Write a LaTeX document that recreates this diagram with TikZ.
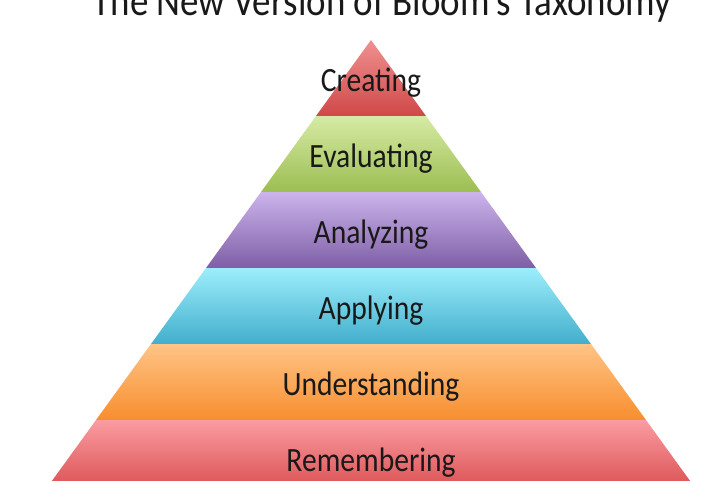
\documentclass[tikz,border=0pt]{standalone}
\usepackage{fontspec}
\setmainfont{Carlito}
\definecolor{creTop}{HTML}{F09090}
\definecolor{creBot}{HTML}{D04848}
\definecolor{evaTop}{HTML}{D6EAA4}
\definecolor{evaBot}{HTML}{9CBE52}
\definecolor{anaTop}{HTML}{CCB4EC}
\definecolor{anaBot}{HTML}{7E5EA6}
\definecolor{appTop}{HTML}{9CEEFC}
\definecolor{appBot}{HTML}{42AECC}
\definecolor{undTop}{HTML}{FFC486}
\definecolor{undBot}{HTML}{F78E2E}
\definecolor{remTop}{HTML}{FA9CA2}
\definecolor{remBot}{HTML}{D84A4A}
\begin{document}
\begin{tikzpicture}[x=1pt, y=-1pt,
  level/.style={anchor=base, xscale=0.87, text=black!90, font=\fontsize{34}{40}\selectfont},
  heading/.style={anchor=base, xscale=0.87, text=black!90, font=\fontsize{42.5}{50}\selectfont}]
\useasboundingbox (0,0) rectangle (720,480);
% layers, top to bottom
\shade[top color=creTop, bottom color=creBot] (371,40) -- (426,116) -- (316,116) -- cycle;
\shade[top color=evaTop, bottom color=evaBot] (316,116) -- (426,116) -- (481,192) -- (261,192) -- cycle;
\shade[top color=anaTop, bottom color=anaBot] (261,192) -- (481,192) -- (536,268) -- (206,268) -- cycle;
\shade[top color=appTop, bottom color=appBot] (206,268) -- (536,268) -- (591,344) -- (151,344) -- cycle;
\shade[top color=undTop, bottom color=undBot] (151,344) -- (591,344) -- (646,420) -- (96,420) -- cycle;
\shade[top color=remTop, bottom color=remBot] (96,420) -- (646,420) -- (701,496) -- (41,496) -- cycle;
% labels
\node[heading] (title) at (382,15) {The New Version of Bloom's Taxonomy};
\node[level] (cre) at (371,91) {Creating};
\node[level] (eva) at (371,167) {Evaluating};
\node[level] (ana) at (371,243) {Analyzing};
\node[level] (app) at (371,319) {Applying};
\node[level] (und) at (371,395) {Understanding};
\node[level] (rem) at (371,471) {Remembering};
\end{tikzpicture}
\end{document}
